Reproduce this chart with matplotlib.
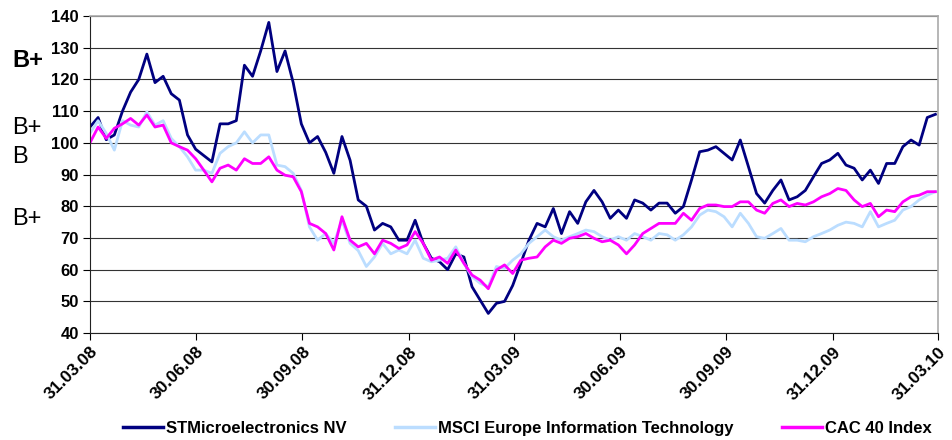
import pandas as pd
import matplotlib.pyplot as plt
import matplotlib.dates as mdates

# weekly closes, rebased to 100 on 31.03.08
dates = pd.date_range('2008-03-31', periods=105, freq='7D')

stm = [105, 108, 101, 102.5, 110, 116, 120, 128, 119, 121, 115.5, 113.5, 102.5, 98, 96, 94, 106, 106,
       107, 124.5, 121, 129, 138, 122.5, 129, 119, 106, 100, 102, 97, 90.4, 102, 94.5, 82, 80,
       72.5, 74.6, 73.5, 69.3, 69.3, 75.6, 68.3, 63.6, 62.5, 60, 65, 64, 54.6, 50.4, 46.2, 49.4, 50,
       55, 62, 69.3, 74.6, 73.5, 79.3, 71.4, 78.3, 74.6, 81.4, 85, 81.4, 76.2, 78.8, 76.2, 82, 81, 78.8,
       81, 81, 77.8, 79.9, 88.3, 97.2, 97.7, 98.8, 96.7, 94.6, 100.9, 92.5, 84, 81, 85, 88.3, 82,
       83, 85, 89.3, 93.5, 94.6, 96.7, 93, 92, 88.3, 91.4, 87.2, 93.5, 93.5, 98.8, 100.9, 99.3, 108, 109]

msci = [103, 107, 103, 97.7, 107, 105.6, 105, 109.8, 105.6, 107, 101.4, 98.8, 95.6, 91.4, 91.4, 90.4, 96.7, 98.8,
        100, 103.5, 100, 102.5, 102.5, 93, 92.5, 90.4, 85, 73.5, 69.3, 71.4, 68.3, 75.6, 68.3, 66, 61,
        64, 68.3, 65, 66.2, 65, 69.3, 63.6, 62.5, 63, 63.6, 67.2, 62, 57.8, 55.7, 54.6, 61, 60.4,
        63, 65, 68.3, 70.4, 72.5, 70.4, 69.3, 70.4, 71.4, 72.5, 72, 70.4, 69.3, 70.4, 69.3, 71.4, 70.4, 69.3,
        71.4, 71, 69.3, 71, 73.5, 77.2, 78.8, 78.3, 76.7, 73.5, 77.8, 74.6, 70.4, 69.9, 71.4, 73, 69.3,
        69.3, 68.8, 70.4, 71.4, 72.5, 74, 75, 74.6, 73.5, 78.3, 73.5, 74.6, 75.6, 78.8, 79.9, 82, 83.5, 84.6]

cac = [100, 105, 101.4, 104.6, 106, 107.7, 105.6, 108.8, 105, 105.6, 100, 98.8, 97.7, 95, 91.4, 87.7, 92, 93,
       91.4, 95, 93.5, 93.5, 95.6, 91.4, 89.8, 89.3, 84.6, 74.6, 73.5, 71.4, 66.2, 76.7, 69.3, 67.2, 68.3,
       65, 69.3, 68.3, 66.7, 67.8, 72, 68.3, 63, 64, 62, 66.2, 62, 58.3, 56.7, 54, 59.9, 61.5,
       58.8, 63, 63.6, 64, 67.2, 69.3, 68.3, 69.9, 70.4, 71.4, 69.9, 68.8, 69.3, 67.8, 65, 67.8, 71.4, 73,
       74.6, 74.6, 74.6, 77.8, 75.6, 79.3, 80.4, 80.4, 79.9, 79.9, 81.4, 81.4, 78.8, 77.8, 80.9, 82, 79.9,
       80.9, 80.4, 81.4, 83, 84, 85.6, 85, 82, 79.9, 80.9, 76.7, 78.8, 78.3, 81.4, 83, 83.5, 84.6, 84.6]

tick_dates = ['2008-03-31', '2008-06-30', '2008-09-30', '2008-12-31', '2009-03-31',
              '2009-06-30', '2009-09-30', '2009-12-31', '2010-03-31']
ratings = [('B+', 126.1, 'bold'), ('B+', 104.8, 'normal'), ('B', 95.4, 'normal'), ('B+', 75.9, 'normal')]

plt.rcParams['font.family'] = ['Liberation Sans', 'DejaVu Sans']

fig = plt.figure(figsize=(9.52, 4.40), dpi=100)
ax = fig.add_axes([0.0945, 0.243, 0.8905, 0.7205])

ax.plot(dates, stm, color='#000080', lw=2.0, label='STMicroelectronics NV')
ax.plot(dates, msci, color='#BBDDFF', lw=2.0, label='MSCI Europe Information Technology')
ax.plot(dates, cac, color='#FF00FF', lw=2.0, label='CAC 40 Index')

ax.set_ylim(40, 140)
ax.set_yticks(range(40, 141, 10))
ax.set_xlim(pd.Timestamp('2008-03-31'), pd.Timestamp('2010-03-31'))
ax.set_xticks(pd.to_datetime(tick_dates))
ax.xaxis.set_major_formatter(mdates.DateFormatter('%d.%m.%y'))
ax.grid(axis='y', color='#333333', lw=0.8)
ax.set_axisbelow(True)

for side in ['top', 'right']:
    ax.spines[side].set_color('#aaaaaa')
    ax.spines[side].set_linewidth(1.2)
ax.spines['left'].set_color('#222222')
ax.spines['bottom'].set_color('#222222')

ax.tick_params(axis='y', length=5, width=0.8, labelsize=12, pad=3)
ax.tick_params(axis='x', length=5, width=0.8, labelsize=12.5, pad=3)
for lab in ax.get_yticklabels():
    lab.set_fontweight('bold')
for lab in ax.get_xticklabels():
    lab.set_fontweight('bold')
    lab.set_rotation(45)
    lab.set_ha('right')
    lab.set_rotation_mode('anchor')

# credit rating notes on the left margin
for txt, yv, w in ratings:
    ax.annotate(txt, xy=(0, yv), xycoords=('figure fraction', 'data'),
                xytext=(12, 0), textcoords='offset pixels',
                fontsize=17, fontweight=w, va='center', ha='left', annotation_clip=False)

leg = fig.legend(loc='center', bbox_to_anchor=(0.554, 0.027), ncol=3, frameon=False,
                 handlelength=2.4, columnspacing=2.9, handletextpad=0.2,
                 prop={'weight': 'bold', 'size': 12})
for line in leg.get_lines():
    line.set_linewidth(2.5)

fig.savefig('out.png', dpi=100)
